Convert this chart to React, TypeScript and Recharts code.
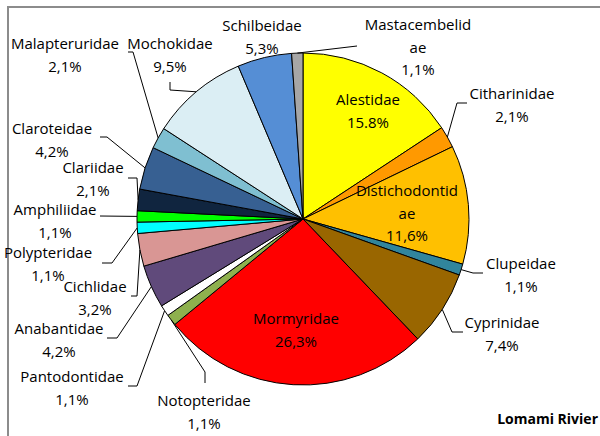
import React from "react";
import { Cell, Pie, PieChart } from "recharts";

const families = [
  "Alestidae",
  "Citharinidae",
  "Distichodontidae",
  "Clupeidae",
  "Cyprinidae",
  "Mormyridae",
  "Notopteridae",
  "Pantodontidae",
  "Anabantidae",
  "Cichlidae",
  "Polypteridae",
  "Amphiliidae",
  "Clariidae",
  "Claroteidae",
  "Malapteruridae",
  "Mochokidae",
  "Schilbeidae",
  "Mastacembelidae",
];

const shares = [15.8, 2.1, 11.6, 1.1, 7.4, 26.3, 1.1, 1.1, 4.2, 3.2, 1.1, 1.1, 2.1, 4.2, 2.1, 9.5, 5.3, 1.1];

const shareLabels = [
  "15.8%", "2,1%", "11,6%", "1,1%", "7,4%", "26,3%", "1,1%", "1,1%", "4,2%",
  "3,2%", "1,1%", "1,1%", "2,1%", "4,2%", "2,1%", "9,5%", "5,3%", "1,1%",
];

const colors = [
  "#FFFF00", "#FF9900", "#FFC000", "#31859C", "#996600", "#FF0000", "#8EB04E",
  "#FFFFFF", "#604A7B", "#D99694", "#00FFFF", "#00FF00", "#10253F", "#376092",
  "#7FBFD1", "#DBEEF4", "#558ED5", "#A6A6A6",
];

const data = families.map((name, i) => ({ name, value: shares[i], label: shareLabels[i] }));

// label placement: text centre x, first line y, name split, leader path after the pie edge
type LabelSpot = { x: number; y: number; lines?: string[]; leader?: number[][] };

const labelSpots: LabelSpot[] = [
  { x: 368, y: 99 },
  { x: 512, y: 93, leader: [[457, 103], [467, 103]] },
  { x: 407, y: 190, lines: ["Distichodontid", "ae"] },
  { x: 521, y: 263, leader: [[473, 273], [483, 273]] },
  { x: 502, y: 322, leader: [[452, 332], [463, 332]] },
  { x: 296, y: 318 },
  { x: 204, y: 400, leader: [[205, 372], [205, 383]] },
  { x: 72, y: 376, leader: [[137, 386], [128, 386]] },
  { x: 59, y: 328, leader: [[117, 338], [107, 338]] },
  { x: 95, y: 286, leader: [[137, 296], [131, 296]] },
  { x: 48, y: 252, leader: [[112, 263], [102, 263]] },
  { x: 55, y: 209, leader: [[100, 216]] },
  { x: 93, y: 167, leader: [[137, 178], [128, 178]] },
  { x: 52, y: 128, leader: [[107, 137], [100, 137]] },
  { x: 65, y: 43, leader: [[133, 52], [128, 52]] },
  { x: 170, y: 43, leader: [[170, 90], [170, 82]] },
  { x: 262, y: 25 },
  { x: 418, y: 24, lines: ["Mastacembelid", "ae"], leader: [[357, 46]] },
];

const RAD = Math.PI / 180;
const FONT = "'Open Sans', sans-serif";

function renderLabel(props: any) {
  const { cx, cy, midAngle, outerRadius, index } = props;
  const spot = labelSpots[index];
  const row = data[index];
  const lines = [...(spot.lines ?? [row.name]), row.label];
  let path = "";
  if (spot.leader) {
    const sx = cx + outerRadius * Math.cos(-midAngle * RAD);
    const sy = cy + outerRadius * Math.sin(-midAngle * RAD);
    path = `M${sx},${sy}` + spot.leader.map((p) => ` L${p[0]},${p[1]}`).join("");
  }
  return (
    <g key={`lbl-${index}`}>
      {path && <path d={path} stroke="#000" strokeWidth={1} fill="none" />}
      {lines.map((t, j) => (
        <text
          key={j}
          x={spot.x}
          y={spot.y + j * 22.5}
          textAnchor="middle"
          dominantBaseline="central"
          fontFamily={FONT}
          fontSize={15}
          fill="#000"
        >
          {t}
        </text>
      ))}
    </g>
  );
}

export default function App() {
  return (
    <div style={{ position: "absolute", left: 0, top: 0, width: 600, height: 436, background: "#fff" }}>
      <div
        style={{
          position: "absolute",
          left: 7,
          top: 6,
          width: 593,
          height: 430,
          borderTop: "2px solid #8c8c8c",
          borderLeft: "2px solid #8c8c8c",
        }}
      />
      <PieChart width={600} height={436} margin={{ top: 0, right: 0, bottom: 0, left: 0 }} style={{ position: "absolute", left: 0, top: 0 }}>
        <Pie
          data={data}
          dataKey="value"
          nameKey="name"
          cx={303}
          cy={219}
          outerRadius={166}
          startAngle={90}
          endAngle={-270}
          stroke="#000"
          strokeWidth={1}
          label={renderLabel}
          labelLine={false}
          isAnimationActive={false}
        >
          {data.map((d, i) => (
            <Cell key={d.name} fill={colors[i]} />
          ))}
        </Pie>
      </PieChart>
      <div
        style={{
          position: "absolute",
          right: 2,
          top: 409,
          fontFamily: FONT,
          fontWeight: 700,
          fontSize: 14,
          color: "#000",
        }}
      >
        Lomami Rivier
      </div>
    </div>
  );
}
